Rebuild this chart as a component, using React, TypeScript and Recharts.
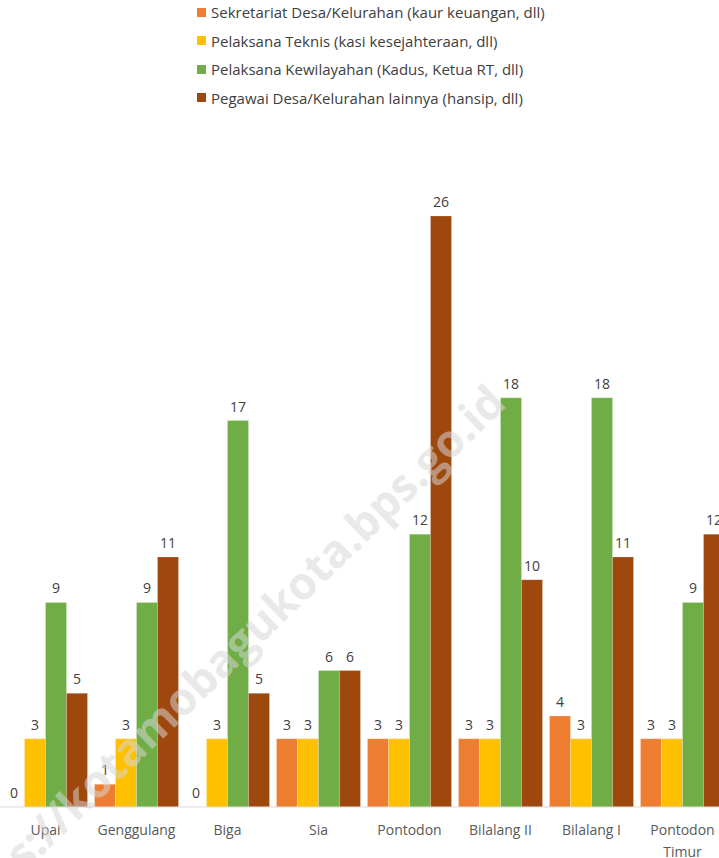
import { BarChart, Bar, XAxis, YAxis, LabelList, Text } from "recharts";

const villages = ["Upai", "Genggulang", "Biga", "Sia", "Pontodon", "Bilalang II", "Bilalang I", "Pontodon Timur"];
const sekretariat = [0, 1, 0, 3, 3, 3, 4, 3];
const teknis = [3, 3, 3, 3, 3, 3, 3, 3];
const kewilayahan = [9, 9, 17, 6, 12, 18, 18, 9];
const lainnya = [5, 11, 5, 6, 26, 10, 11, 12];

const seriesInfo = [
  { key: "sekretariat", name: "Sekretariat Desa/Kelurahan (kaur keuangan, dll)", color: "#ED7D31" },
  { key: "teknis", name: "Pelaksana Teknis (kasi kesejahteraan, dll)", color: "#FFC000" },
  { key: "kewilayahan", name: "Pelaksana Kewilayahan (Kadus, Ketua RT, dll)", color: "#70AD47" },
  { key: "lainnya", name: "Pegawai Desa/Kelurahan lainnya (hansip, dll)", color: "#9E480E" },
];

const data = villages.map((v, i) => ({
  name: v,
  sekretariat: sekretariat[i],
  teknis: teknis[i],
  kewilayahan: kewilayahan[i],
  lainnya: lainnya[i],
}));

const FONT = "'Open Sans', 'Liberation Sans', sans-serif";

const VillageTick = (props: any) => {
  const { x, y, payload } = props;
  return (
    <Text x={x} y={y + 10} width={88} textAnchor="middle" verticalAnchor="start" fill="#595959" fontSize={14} fontFamily={FONT} lineHeight={22}>
      {payload.value}
    </Text>
  );
};

const ValueLabel = (props: any) => {
  const { x, y, width, value } = props;
  if (value == null) return null;
  return (
    <text x={Number(x) + Number(width) / 2} y={Number(y) - 9} textAnchor="middle" fill="#404040" fontSize={14} fontFamily={FONT}>
      {value}
    </text>
  );
};

export default function App() {
  return (
    <div style={{ position: "absolute", left: 0, top: 0, width: 719, height: 858, overflow: "hidden", background: "#fff" }}>
      <div style={{ position: "absolute", left: 197, top: -2, fontFamily: FONT, fontSize: 15, color: "#404040" }}>
        {seriesInfo.map((s) => (
          <div key={s.key} style={{ display: "flex", alignItems: "center", height: 28.5 }}>
            <span style={{ display: "inline-block", width: 9, height: 9, background: s.color, marginRight: 5 }} />
            <span>{s.name}</span>
          </div>
        ))}
      </div>
      <div style={{ position: "absolute", left: 0, top: 0 }}>
        <BarChart width={728} height={858} data={data} margin={{ top: 125, right: 0, bottom: 0, left: 0 }} barCategoryGap={3.5} barGap={0}>
          <XAxis dataKey="name" height={51} interval={0} tickLine={false} axisLine={{ stroke: "#d9d9d9" }} tick={<VillageTick />} />
          <YAxis hide domain={[0, 30]} />
          {seriesInfo.map((s) => (
            <Bar key={s.key} dataKey={s.key} name={s.name} fill={s.color} stroke="#ffffff" strokeOpacity={0.35} strokeWidth={0.6} minPointSize={0.01} isAnimationActive={false}>
              <LabelList dataKey={s.key} content={<ValueLabel />} />
            </Bar>
          ))}
        </BarChart>
      </div>
      <div
        style={{
          position: "absolute",
          left: -146,
          top: 596,
          width: 800,
          textAlign: "center",
          transform: "rotate(-44deg)",
          fontFamily: FONT,
          fontWeight: 700,
          fontSize: 45,
          color: "rgba(215,215,215,0.55)",
          pointerEvents: "none",
          whiteSpace: "nowrap",
        }}
      >
        s://kotamobagukota.bps.go.id
      </div>
    </div>
  );
}
